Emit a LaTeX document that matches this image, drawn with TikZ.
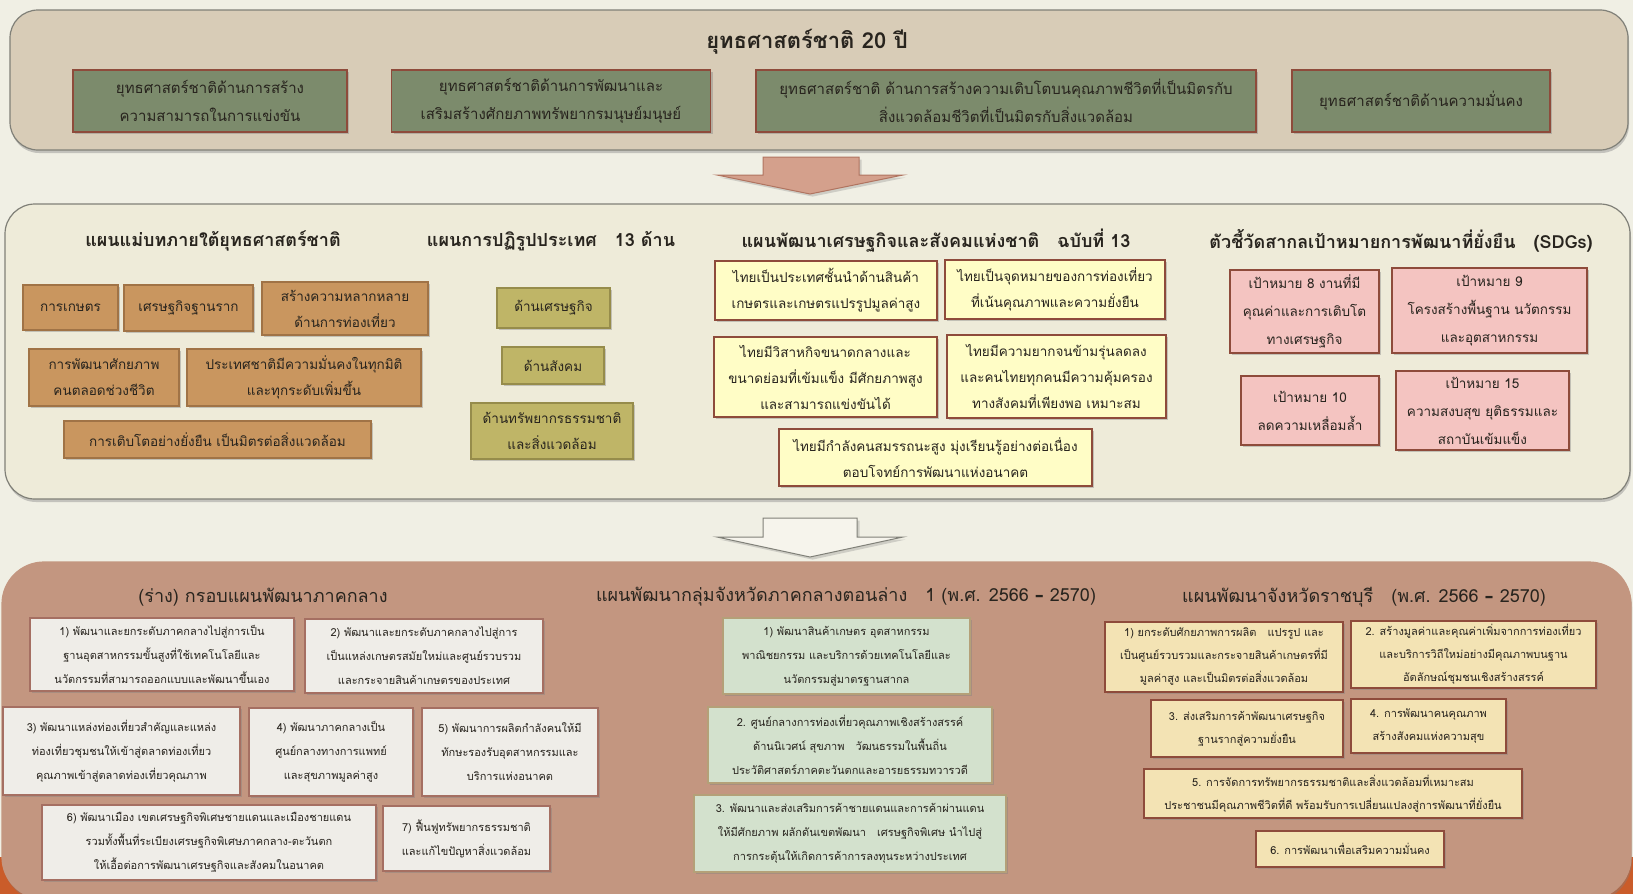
\documentclass[tikz,border=0pt]{standalone}
\usepackage{fontspec}
\usepackage{tikz}
\usetikzlibrary{shadows}
\setmainfont[Script=Thai]{Loma}
\newfontfamily\dashfont{DejaVu Sans}
\definecolor{page}{RGB}{240, 239, 228}
\definecolor{toppanel}{RGB}{216, 204, 183}
\definecolor{midpanel}{RGB}{238, 235, 217}
\definecolor{lowpanel}{RGB}{195, 150, 128}
\definecolor{rim}{RGB}{128, 128, 120}
\definecolor{ink}{RGB}{40, 36, 30}
\definecolor{sage}{RGB}{124, 139, 108}
\definecolor{brick}{RGB}{142, 75, 59}
\definecolor{tan}{RGB}{201, 150, 95}
\definecolor{tanrim}{RGB}{160, 115, 70}
\definecolor{khaki}{RGB}{191, 181, 103}
\definecolor{khakirim}{RGB}{150, 140, 75}
\definecolor{cream}{RGB}{255, 253, 198}
\definecolor{rose}{RGB}{244, 196, 193}
\definecolor{paper}{RGB}{239, 237, 232}
\definecolor{mint}{RGB}{211, 225, 205}
\definecolor{mintrim}{RGB}{180, 160, 120}
\definecolor{wheat}{RGB}{243, 227, 180}
\definecolor{salmon}{RGB}{212, 160, 140}
\definecolor{salmonrim}{RGB}{176, 116, 96}
\definecolor{blank}{RGB}{246, 244, 236}
\definecolor{rust}{RGB}{202, 92, 42}

\begin{document}
\begin{tikzpicture}[x=1pt, y=-1pt,
  panel/.style={rounded corners=28pt, draw=rim, line width=1.2pt,
    drop shadow={shadow xshift=1pt, shadow yshift=-3pt, opacity=0.4}},
  box/.style={line width=1.3pt, align=center, inner sep=1pt, text=ink,
    drop shadow={shadow xshift=2pt, shadow yshift=-2pt, opacity=0.4}},
  topbox/.style={box, fill=sage, draw=brick, font=\fontsize{15}{28}\selectfont},
  tanbox/.style={box, fill=tan, draw=tanrim, font=\fontsize{13.5}{26}\selectfont},
  khakibox/.style={box, fill=khaki, draw=khakirim, font=\fontsize{13.5}{26}\selectfont},
  creambox/.style={box, fill=cream, draw=brick, font=\fontsize{13.5}{26}\selectfont},
  rosebox/.style={box, fill=rose, draw=brick, font=\fontsize{13.5}{28}\selectfont},
  paperbox/.style={box, fill=paper, draw=brick!80, font=\fontsize{11}{24}\selectfont},
  mintbox/.style={box, fill=mint, draw=mintrim, font=\fontsize{11}{24}\selectfont},
  wheatbox/.style={box, fill=wheat, draw=brick, font=\fontsize{11}{23}\selectfont},
  head/.style={text=ink, font=\bfseries\fontsize{18}{20}\selectfont},
  lowhead/.style={text=ink, font=\fontsize{18}{20}\selectfont}]
  \useasboundingbox (0,0) rectangle (1633,894);
  \fill[page] (0,0) rectangle (1633,894);

  \fill[rust] (0,857) rectangle (1633,894);

  \filldraw[panel, fill=toppanel] (10,10) rectangle (1628,150);
  \filldraw[panel, fill=midpanel, rounded corners=30pt] (5,204) rectangle (1630,499);
  \filldraw[panel, fill=lowpanel, draw=lowpanel, rounded corners=42pt] (2,562) rectangle (1631,899);

  \filldraw[fill=salmon, draw=salmonrim, line width=1pt, drop shadow={opacity=0.3}]
    (763,157) -- (859,157) -- (859,175) -- (903,175) -- (810,194) -- (717,175) -- (763,175) -- cycle;
  \filldraw[fill=blank, draw=rim, line width=1pt, drop shadow={opacity=0.3}]
    (763,518) -- (857,518) -- (857,537) -- (903,537) -- (810,557) -- (717,537) -- (763,537) -- cycle;

  \node[text=ink, font=\bfseries\fontsize{22}{24}\selectfont] (strategy) at (807,42) {ยุทธศาสตร์ชาติ 20 ปี};
  \node[topbox, minimum width=274pt, minimum height=62pt] (natcompete) at (210,101)
    {ยุทธศาสตร์ชาติด้านการสร้าง\\ความสามารถในการแข่งขัน};
  \node[topbox, minimum width=319pt, minimum height=62pt] (nathuman) at (551,101)
    {ยุทธศาสตร์ชาติด้านการพัฒนาและ\\เสริมสร้างศักยภาพทรัพยากรมนุษย์มนุษย์};
  \node[topbox, minimum width=500pt, minimum height=62pt] (natgreen) at (1006,101)
    {ยุทธศาสตร์ชาติ ด้านการสร้างความเติบโตบนคุณภาพชีวิตที่เป็นมิตรกับ\\สิ่งแวดล้อมชีวิตที่เป็นมิตรกับสิ่งแวดล้อม};
  \node[topbox, minimum width=258pt, minimum height=62pt] (natsecure) at (1421,101)
    {ยุทธศาสตร์ชาติด้านความมั่นคง};

  \node[head] (masterhead) at (213,241) {แผนแม่บทภายใต้ยุทธศาสตร์ชาติ};
  \node[head] (reformhead) at (551,241) {แผนการปฏิรูปประเทศ\quad 13 ด้าน};
  \node[head] (nesdhead) at (936,241) {แผนพัฒนาเศรษฐกิจและสังคมแห่งชาติ\quad ฉบับที่ 13};
  \node[head] (sdghead) at (1401,241) {ตัวชี้วัดสากลเป้าหมายการพัฒนาที่ยั่งยืน\quad (SDGs)};

  \node[tanbox, minimum width=95pt, minimum height=45pt] (farming) at (70.5,307.5) {การเกษตร};
  \node[tanbox, minimum width=129pt, minimum height=46pt] (grassroots) at (188.5,308) {เศรษฐกิจฐานราก};
  \node[tanbox, minimum width=166pt, minimum height=53pt] (tourism) at (345,308.5)
    {สร้างความหลากหลาย\\ด้านการท่องเที่ยว};
  \node[tanbox, minimum width=150pt, minimum height=57pt] (lifelong) at (104,377.5)
    {การพัฒนาศักยภาพ\\คนตลอดช่วงชีวิต};
  \node[tanbox, minimum width=234pt, minimum height=57pt] (security) at (304,377.5)
    {ประเทศชาติมีความมั่นคงในทุกมิติ\\และทุกระดับเพิ่มขึ้น};
  \node[tanbox, minimum width=307pt, minimum height=37pt] (greengrowth) at (217.5,439.5)
    {การเติบโตอย่างยั่งยืน เป็นมิตรต่อสิ่งแวดล้อม};

  \node[khakibox, minimum width=113pt, minimum height=40pt] (economy) at (553.5,308) {ด้านเศรษฐกิจ};
  \node[khakibox, minimum width=102pt, minimum height=37pt] (society) at (553,365.5) {ด้านสังคม};
  \node[khakibox, minimum width=162pt, minimum height=56pt] (resources) at (552,431)
    {ด้านทรัพยากรธรรมชาติ\\และสิ่งแวดล้อม};

  \node[creambox, minimum width=222pt, minimum height=59pt] (agrilead) at (826,290.5)
    {ไทยเป็นประเทศชั้นนำด้านสินค้า\\เกษตรและเกษตรแปรรูปมูลค่าสูง};
  \node[creambox, minimum width=220pt, minimum height=59pt] (destination) at (1055,289.5)
    {ไทยเป็นจุดหมายของการท่องเที่ยว\\ที่เน้นคุณภาพและความยั่งยืน};
  \node[creambox, minimum width=223pt, minimum height=80pt] (smes) at (825.5,377)
    {ไทยมีวิสาหกิจขนาดกลางและ\\ขนาดย่อมที่เข้มแข็ง มีศักยภาพสูง\\และสามารถแข่งขันได้};
  \node[creambox, minimum width=219pt, minimum height=83pt] (poverty) at (1056.5,376.5)
    {ไทยมีความยากจนข้ามรุ่นลดลง\\และคนไทยทุกคนมีความคุ้มครอง\\ทางสังคมที่เพียงพอ เหมาะสม};
  \node[creambox, minimum width=313pt, minimum height=57pt] (workforce) at (935.5,457.5)
    {ไทยมีกำลังคนสมรรถนะสูง มุ่งเรียนรู้อย่างต่อเนื่อง\\ตอบโจทย์การพัฒนาแห่งอนาคต};

  \node[rosebox, minimum width=149pt, minimum height=83pt] (goaleight) at (1304.5,311.5)
    {เป้าหมาย 8 งานที่มี\\คุณค่าและการเติบโต\\ทางเศรษฐกิจ};
  \node[rosebox, minimum width=195pt, minimum height=85pt] (goalnine) at (1489.5,310.5)
    {เป้าหมาย 9\\โครงสร้างพื้นฐาน นวัตกรรม\\และอุตสาหกรรม};
  \node[rosebox, minimum width=138pt, minimum height=69pt] (goalten) at (1310,410.5)
    {เป้าหมาย 10\\ลดความเหลื่อมล้ำ};
  \node[rosebox, minimum width=173pt, minimum height=79pt] (goalfifteen) at (1482.5,410.5)
    {เป้าหมาย 15\\ความสงบสุข ยุติธรรมและ\\สถาบันเข้มแข็ง};

  \node[lowhead] (regionhead) at (263,597) {(ร่าง) กรอบแผนพัฒนาภาคกลาง};
  \node[lowhead] (clusterhead) at (846,597)
    {แผนพัฒนากลุ่มจังหวัดภาคกลางตอนล่าง\quad 1 (พ.ศ. 2566 {\dashfont\bfseries –} 2570)};
  \node[lowhead] (provincehead) at (1364,597)
    {แผนพัฒนาจังหวัดราชบุรี\quad (พ.ศ. 2566 {\dashfont\bfseries –} 2570)};

  \node[paperbox, minimum width=264pt, minimum height=73pt] (regionone) at (162,654.5)
    {1) พัฒนาและยกระดับภาคกลางไปสู่การเป็น\\ฐานอุตสาหกรรมขั้นสูงที่ใช้เทคโนโลยีและ\\นวัตกรรมที่สามารถออกแบบและพัฒนาขึ้นเอง};
  \node[paperbox, minimum width=238pt, minimum height=74pt] (regiontwo) at (424,656)
    {2) พัฒนาและยกระดับภาคกลางไปสู่การ\\เป็นแหล่งเกษตรสมัยใหม่และศูนย์รวบรวม\\และกระจายสินค้าเกษตรของประเทศ};
  \node[paperbox, minimum width=237pt, minimum height=88pt] (regionthree) at (121.5,751)
    {3) พัฒนาแหล่งท่องเที่ยวสำคัญและแหล่ง\\ท่องเที่ยวชุมชนให้เข้าสู่ตลาดท่องเที่ยว\\คุณภาพเข้าสู่ตลาดท่องเที่ยวคุณภาพ};
  \node[paperbox, minimum width=164pt, minimum height=88pt] (regionfour) at (331,752)
    {4) พัฒนาภาคกลางเป็น\\ศูนย์กลางทางการแพทย์\\และสุขภาพมูลค่าสูง};
  \node[paperbox, minimum width=176pt, minimum height=88pt] (regionfive) at (510,752)
    {5) พัฒนาการผลิตกำลังคนให้มี\\ทักษะรองรับอุตสาหกรรมและ\\บริการแห่งอนาคต};
  \node[paperbox, minimum width=334pt, minimum height=75pt] (regionsix) at (209,842.5)
    {6) พัฒนาเมือง เขตเศรษฐกิจพิเศษชายแดนและเมืองชายแดน\\รวมทั้งพื้นที่ระเบียงเศรษฐกิจพิเศษภาคกลาง-ตะวันตก\\ให้เอื้อต่อการพัฒนาเศรษฐกิจและสังคมในอนาคต};
  \node[paperbox, minimum width=167pt, minimum height=65pt] (regionseven) at (466.5,838.5)
    {7) ฟื้นฟูทรัพยากรธรรมชาติ\\และแก้ไขปัญหาสิ่งแวดล้อม};

  \node[mintbox, minimum width=247pt, minimum height=76pt] (clusterone) at (846.5,656)
    {1) พัฒนาสินค้าเกษตร อุตสาหกรรม\\พาณิชยกรรม และบริการด้วยเทคโนโลยีและ\\นวัตกรรมสู่มาตรฐานสากล};
  \node[mintbox, minimum width=284pt, minimum height=76pt] (clustertwo) at (850,745)
    {2. ศูนย์กลางการท่องเที่ยวคุณภาพเชิงสร้างสรรค์\\ด้านนิเวศน์ สุขภาพ\quad วัฒนธรรมในพื้นถิ่น\\ประวัติศาสตร์ภาคตะวันตกและอารยธรรมทวารวดี};
  \node[mintbox, minimum width=312pt, minimum height=77pt] (clusterthree) at (850,833.5)
    {3. พัฒนาและส่งเสริมการค้าชายแดนและการค้าผ่านแดน\\ให้มีศักยภาพ ผลักดันเขตพัฒนา\quad เศรษฐกิจพิเศษ นำไปสู่\\การกระตุ้นให้เกิดการค้าการลงทุนระหว่างประเทศ};

  \node[wheatbox, minimum width=238pt, minimum height=70pt] (provinceone) at (1224,657)
    {1) ยกระดับศักยภาพการผลิต\quad แปรรูป และ\\เป็นศูนย์รวบรวมและกระจายสินค้าเกษตรที่มี\\มูลค่าสูง และเป็นมิตรต่อสิ่งแวดล้อม};
  \node[wheatbox, minimum width=245pt, minimum height=67pt] (provincetwo) at (1473.5,654.5)
    {2. สร้างมูลค่าและคุณค่าเพิ่มจากการท่องเที่ยว\\และบริการวิถีใหม่อย่างมีคุณภาพบนฐาน\\อัตลักษณ์ชุมชนเชิงสร้างสรรค์};
  \node[wheatbox, minimum width=192pt, minimum height=57pt] (provincethree) at (1247,728.5)
    {3. ส่งเสริมการค้าพัฒนาเศรษฐกิจ\\ฐานรากสู่ความยั่งยืน};
  \node[wheatbox, minimum width=155pt, minimum height=54pt] (provincefour) at (1428.5,726)
    {4. การพัฒนาคนคุณภาพ\\สร้างสังคมแห่งความสุข};
  \node[wheatbox, minimum width=378pt, minimum height=49pt] (provincefive) at (1333,793.5)
    {5. การจัดการทรัพยากรธรรมชาติและสิ่งแวดล้อมที่เหมาะสม\\ประชาชนมีคุณภาพชีวิตที่ดี พร้อมรับการเปลี่ยนแปลงสู่การพัฒนาที่ยั่งยืน};
  \node[wheatbox, minimum width=188pt, minimum height=36pt] (provincesix) at (1350,849)
    {6. การพัฒนาเพื่อเสริมความมั่นคง};
\end{tikzpicture}
\end{document}
